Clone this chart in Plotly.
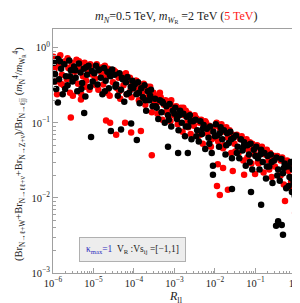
import plotly.graph_objects as go

# ---- data (log10 values) ----
# black series: m_WR = 2 TeV
log_R_black = [
    -5.98, -5.95, -5.92, -5.88, -5.85, -5.80, -5.76, -5.72, -5.68, -5.64, -5.60, -5.56, -5.52,
    -5.48, -5.44, -5.40, -5.36, -5.32, -5.28, -5.24, -5.20, -5.16, -5.12, -5.08, -5.04,
    -4.98, -4.94, -4.90, -4.86, -4.82, -4.78, -4.74, -4.70, -4.66, -4.62, -4.58, -4.54,
    -4.48, -4.44, -4.40, -4.36, -4.32, -4.28, -4.24, -4.20, -4.16, -4.12, -4.08, -4.04,
    -3.98, -3.94, -3.90, -3.86, -3.82, -3.78, -3.74, -3.70, -3.66, -3.62, -3.58, -3.54,
    -3.48, -3.44, -3.40, -3.36, -3.32, -3.28, -3.24, -3.20, -3.16, -3.12, -3.08, -3.04,
    -2.98, -2.94, -2.90, -2.86, -2.82, -2.78, -2.74, -2.70, -2.66, -2.62, -2.58, -2.54,
    -2.48, -2.44, -2.40, -2.36, -2.32, -2.28, -2.24, -2.20, -2.16, -2.12, -2.08, -2.04,
    -1.98, -1.94, -1.90, -1.86, -1.82, -1.78, -1.74, -1.70, -1.66, -1.62, -1.58, -1.54,
    -1.48, -1.44, -1.40, -1.36, -1.32, -1.28, -1.24, -1.20, -1.16, -1.12, -1.08, -1.04,
    -0.98, -0.94, -0.90, -0.86, -0.82, -0.78, -0.74, -0.70, -0.66, -0.62, -0.58, -0.54,
    -0.48, -0.44, -0.40, -0.36, -0.32, -0.28, -0.24, -0.20, -0.16, -0.13, -0.10, -0.08,
    -0.06, -0.04, -0.03, -0.02,
    # extra band points
    -5.97, -5.83, -5.70, -5.58, -5.45, -5.30, -5.18, -5.02, -4.88, -4.72, -4.60, -4.46, -4.30,
    -4.18, -4.02, -3.88, -3.72, -3.60, -3.46, -3.30, -3.14, -3.00, -2.88, -2.72, -2.60, -2.46,
    -2.30, -2.14, -2.00, -1.88, -1.72, -1.60, -1.46, -1.30, -1.14, -1.00, -0.88, -0.72, -0.60,
    -0.46, -0.30, -0.18, -0.11, -0.05, -0.01,
    # outliers
    -5.88, -5.23, -5.06, -4.57, -4.32, -4.07, -3.93, -3.16, -2.91, -2.67, -2.05, -2.05,
    -1.58, -1.11, -0.86, -0.44, -0.35, -0.49, -0.32,
    # column at R ~ 1
    0.0, -0.01, 0.0, -0.01, 0.0, -0.01, 0.0, -0.01, 0.0, -0.01, 0.0, -0.01, 0.0, -0.01, 0.0,
    -0.01, 0.0, -0.01, 0.0, -0.01, 0.0, -0.01, 0.0, -0.01, 0.0, -0.01, 0.0, -0.01, 0.0, 0.0,
]
log_ratio_black = [
    -0.20, -0.35, -0.55, -0.15, -0.42, -0.28, -0.62, -0.22, -0.38, -0.50, -0.17, -0.30, -0.45,
    -0.25, -0.40, -0.58, -0.21, -0.33, -0.47, -0.28, -0.65, -0.36, -0.24, -0.52, -0.31,
    -0.34, -0.24, -0.49, -0.29, -0.40, -0.62, -0.27, -0.44, -0.32, -0.54, -0.38, -0.29,
    -0.36, -0.49, -0.64, -0.34, -0.56, -0.42, -0.72, -0.46, -0.39, -0.60, -0.52, -0.44,
    -0.49, -0.62, -0.46, -0.74, -0.54, -0.66, -0.50, -0.84, -0.58, -0.70, -0.56, -0.78,
    -0.68, -0.80, -0.95, -0.70, -0.86, -0.74, -1.00, -0.78, -0.90, -0.75, -1.05, -0.84,
    -0.80, -0.95, -1.10, -0.84, -1.00, -0.88, -1.18, -0.92, -1.05, -0.90, -1.22, -0.98,
    -0.96, -1.10, -1.25, -0.98, -1.15, -1.03, -1.35, -1.08, -1.20, -1.05, -1.40, -1.12,
    -1.02, -1.17, -1.32, -1.06, -1.22, -1.10, -1.42, -1.14, -1.27, -1.12, -1.47, -1.20,
    -1.17, -1.32, -1.47, -1.22, -1.37, -1.26, -1.57, -1.30, -1.42, -1.28, -1.62, -1.36,
    -1.32, -1.47, -1.62, -1.36, -1.52, -1.40, -1.74, -1.44, -1.58, -1.42, -1.80, -1.50,
    -1.46, -1.62, -1.77, -1.48, -1.67, -1.54, -1.87, -1.58, -1.72, -1.52, -1.92, -1.62,
    -1.80, -1.56, -1.97, -1.68,
    # extra band points
    -0.45, -0.18, -0.55, -0.38, -0.30, -0.55, -0.26, -0.45, -0.30, -0.58, -0.36, -0.52, -0.40,
    -0.62, -0.54, -0.60, -0.70, -0.64, -0.78, -0.72, -0.96, -0.88, -0.90, -1.05, -0.98, -1.18,
    -1.08, -1.28, -1.18, -1.14, -1.30, -1.22, -1.40, -1.32, -1.52, -1.44, -1.42, -1.58, -1.52,
    -1.70, -1.60, -1.84, -1.74, -1.92, -1.50,
    # outliers
    -0.73, -0.87, -1.19, -1.11, -1.09, -1.01, -1.23, -1.32, -1.40, -1.40, -1.69, -1.57,
    -1.88, -1.92, -2.09, -2.31, -2.36, -2.37, -2.49,
    # column at R ~ 1
    -1.55, -1.60, -1.65, -1.70, -1.75, -1.80, -1.85, -1.90, -1.95, -2.00, -2.05, -2.10, -2.15,
    -2.20, -2.25, -2.30, -2.35, -2.40, -2.45, -2.50, -2.55, -2.60, -2.65, -2.70, -2.75, -2.80,
    -2.85, -2.90, -2.95, -2.99,
]

# red series: m_WR = 5 TeV
log_R_red = [
    -5.99, -5.96, -5.93, -5.90, -5.86, -5.82, -5.78, -5.74, -5.70, -5.66, -5.62, -5.58, -5.54,
    -5.46, -5.42, -5.38, -5.34, -5.30, -5.26, -5.22, -5.18, -5.14, -5.10, -5.06, -5.02,
    -4.96, -4.92, -4.88, -4.84, -4.80, -4.76, -4.72, -4.68, -4.64, -4.60, -4.56, -4.52,
    -4.46, -4.42, -4.38, -4.34, -4.30, -4.26, -4.22, -4.18, -4.14, -4.10, -4.06, -4.02,
    -3.96, -3.92, -3.88, -3.84, -3.80, -3.76, -3.72, -3.68, -3.64, -3.60, -3.56, -3.52,
    -3.46, -3.42, -3.38, -3.34, -3.30, -3.26, -3.22, -3.18, -3.14, -3.10, -3.06, -3.02,
    -2.96, -2.92, -2.88, -2.84, -2.80, -2.76, -2.72, -2.68, -2.64, -2.60, -2.56, -2.52,
    -2.46, -2.42, -2.38, -2.34, -2.30, -2.26, -2.22, -2.18, -2.14, -2.10, -2.06, -2.02,
    -1.96, -1.92, -1.88, -1.84, -1.80, -1.76, -1.72, -1.68, -1.64, -1.60, -1.56, -1.52,
    -1.46, -1.42, -1.38, -1.34, -1.30, -1.26, -1.22, -1.18, -1.14, -1.10, -1.06, -1.02,
    -0.96, -0.92, -0.88, -0.84, -0.80, -0.76, -0.72, -0.68, -0.64, -0.60, -0.56, -0.52,
    -0.46, -0.42, -0.38, -0.34, -0.30, -0.26, -0.22, -0.18, -0.14, -0.11, -0.09, -0.07,
    -0.05, -0.03,
    # extra band points
    -5.94, -5.80, -5.64, -5.50, -5.36, -5.20, -5.08, -4.94, -4.78, -4.66, -4.50, -4.36, -4.20,
    -4.08, -3.94, -3.78, -3.66, -3.50, -3.36, -3.20, -3.08, -2.94, -2.78, -2.66, -2.50, -2.36,
    -2.24, -2.08, -1.94, -1.78, -1.66, -1.50, -1.36, -1.20, -1.08, -0.94, -0.80, -0.66, -0.52,
    -0.38, -0.24, -0.12, -0.04,
    # outliers
    -5.56, -5.51, -5.31, -4.69, -4.59, -4.44, -4.22, -4.07, -3.83, -3.56, -1.95, -1.93,
    -1.88, -1.68, -1.80, -1.56, -1.28, -1.01, -0.27, 0.0,
    # near R ~ 1
    0.0, -0.01, 0.0, -0.02, 0.0,
]
log_ratio_red = [
    -0.12, -0.28, -0.45, -0.62, -0.24, -0.10, -0.36, -0.50, -0.18, -0.42, -0.27, -0.60, -0.20,
    -0.32, -0.16, -0.48, -0.26, -0.62, -0.38, -0.20, -0.44, -0.30, -0.56, -0.25, -0.36,
    -0.41, -0.22, -0.56, -0.27, -0.34, -0.49, -0.24, -0.39, -0.28, -0.64, -0.32, -0.46,
    -0.32, -0.54, -0.40, -0.68, -0.36, -0.50, -0.38, -0.62, -0.44, -0.40, -0.66, -0.48,
    -0.44, -0.56, -0.70, -0.50, -0.60, -0.48, -0.76, -0.54, -0.64, -0.52, -0.86, -0.60,
    -0.64, -0.88, -0.72, -0.66, -0.96, -0.76, -0.70, -0.84, -0.72, -0.98, -0.78, -0.90,
    -0.78, -1.02, -0.86, -0.80, -1.12, -0.90, -0.84, -0.98, -0.88, -1.15, -0.92, -1.04,
    -0.94, -1.18, -1.00, -0.96, -1.28, -1.06, -1.00, -1.14, -1.04, -1.32, -1.08, -1.20,
    -1.00, -1.25, -1.08, -1.02, -1.34, -1.12, -1.06, -1.20, -1.10, -1.40, -1.16, -1.28,
    -1.16, -1.40, -1.22, -1.18, -1.50, -1.28, -1.22, -1.36, -1.26, -1.54, -1.30, -1.42,
    -1.30, -1.54, -1.36, -1.32, -1.66, -1.42, -1.36, -1.50, -1.40, -1.72, -1.44, -1.58,
    -1.44, -1.70, -1.50, -1.46, -1.82, -1.56, -1.50, -1.64, -1.54, -1.87, -1.58, -1.72,
    -1.52, -1.62,
    # extra band points
    -0.20, -0.48, -0.14, -0.44, -0.18, -0.52, -0.22, -0.50, -0.26, -0.60, -0.30, -0.58, -0.34,
    -0.56, -0.44, -0.66, -0.52, -0.74, -0.60, -0.86, -0.70, -0.94, -0.80, -1.06, -0.90, -1.16,
    -0.98, -1.22, -1.04, -1.30, -1.12, -1.38, -1.20, -1.46, -1.28, -1.52, -1.36, -1.62, -1.44,
    -1.70, -1.52, -1.78, -1.56,
    # outliers
    -0.93, -0.64, -0.69, -0.97, -1.00, -1.16, -1.00, -1.13, -1.11, -1.43, -1.84, -1.55,
    -1.96, -1.89, -1.60, -1.64, -1.69, -1.68, -2.04, -2.89,
    # near R ~ 1
    -1.65, -1.85, -2.05, -2.20, -2.35,
]

x_tick_exponents = [-6, -5, -4, -3, -2, -1, 0]
y_tick_exponents = [-3, -2, -1, 0]

# ---- figure ----
R_black = [10 ** v for v in log_R_black]
Y_black = [10 ** v for v in log_ratio_black]
R_red = [10 ** v for v in log_R_red]
Y_red = [10 ** v for v in log_ratio_red]

FONT = "Liberation Serif"

fig = go.Figure()
fig.add_trace(go.Scatter(x=R_red, y=Y_red, mode="markers",
                         marker=dict(color="#ff0000", size=6.5, line=dict(width=0)),
                         showlegend=False, hoverinfo="skip"))
fig.add_trace(go.Scatter(x=R_black, y=Y_black, mode="markers",
                         marker=dict(color="#000000", size=6.5, line=dict(width=0)),
                         showlegend=False, hoverinfo="skip"))

def minor_vals(exps):
    out = []
    for e in exps[:-1]:
        for m in range(2, 10):
            out.append(m * 10 ** e)
    return out

def sup_label(e):
    s = str(e).replace("-", "\u2212")
    return "10<sup>" + s + "</sup>"

axis_common = dict(
    type="log", showgrid=False, zeroline=False,
    showline=True, mirror=True, linecolor="#a0a0a0", linewidth=1,
    ticks="inside", ticklen=5, tickcolor="#a0a0a0", tickwidth=1,
    tickfont=dict(family=FONT, size=10.5, color="#222222"),
    automargin=False,
)

fig.update_xaxes(
    **axis_common,
    range=[-6, 0.1],
    tickvals=[10 ** e for e in x_tick_exponents],
    ticktext=[sup_label(e) for e in x_tick_exponents],
    minor=dict(tickvals=minor_vals(x_tick_exponents), ticks="inside", ticklen=2.5,
               tickcolor="#a0a0a0", showgrid=False),
)
fig.update_yaxes(
    **axis_common,
    range=[-3, 0.25],
    tickvals=[10 ** e for e in y_tick_exponents],
    ticktext=[sup_label(e) for e in y_tick_exponents],
    minor=dict(tickvals=minor_vals(y_tick_exponents), ticks="inside", ticklen=2.5,
               tickcolor="#a0a0a0", showgrid=False),
)

L, R, T, B = 45, 8, 21, 38
W, H = 300, 303
pw, ph = W - L - R, H - T - B

def px(xp):
    return (xp - L) / pw

def py(yp):
    return (H - B - yp) / ph

annotations = [
    dict(text="<i>m</i><sub><i>N</i></sub>=0.5 TeV, <i>m</i><sub><i>W</i><sub>R</sub></sub> =2 TeV "
              "(<span style='color:#ff2020'>5 TeV</span>)",
         xref="paper", yref="paper", x=px(168), y=py(9), showarrow=False,
         font=dict(family=FONT, size=12, color="#222222"), xanchor="center", yanchor="middle"),
    dict(text="<i>R</i><sub>ll</sub>", xref="paper", yref="paper", x=px(168), y=py(289),
         showarrow=False, font=dict(family=FONT, size=12, color="#222222"),
         xanchor="center", yanchor="middle"),
    dict(text="(Br<sub>N\u2192\u2113+W</sub>+Br<sub>N\u2192\u2113\u2113+\u03bd</sub>+Br<sub>N\u2192Z+\u03bd</sub>)"
              "/Br<sub>N\u2192\u2113jj</sub> (<i>m</i><sub>N</sub><sup>4</sup>/<i>m</i><sub>W<sub>R</sub></sub><sup>4</sup>)",
         xref="paper", yref="paper", x=px(11), y=py(146), textangle=-90, showarrow=False,
         font=dict(family=FONT, size=10.5, color="#222222"), xanchor="center", yanchor="middle"),
    dict(text="<span style='color:#3030c0'>\u03ba<sub>max</sub>=1</span>  V<sub>R</sub> :Vs<sub>ij</sub> =[\u22121,1]",
         xref="paper", yref="paper", x=px(124), y=py(241), showarrow=False,
         font=dict(family=FONT, size=9.5, color="#222222"), xanchor="center", yanchor="middle",
         bgcolor="#ededed", bordercolor="#b0b0b0", borderwidth=1, borderpad=6),
]

fig.update_layout(
    width=W, height=H,
    margin=dict(l=L, r=R, t=T, b=B, pad=0),
    plot_bgcolor="white", paper_bgcolor="white",
    annotations=annotations,
    showlegend=False,
)

fig.write_html("out.html")
